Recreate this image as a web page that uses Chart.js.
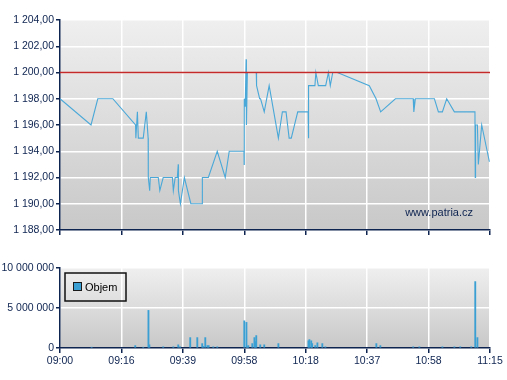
<!DOCTYPE html>
<html>
<head>
<meta charset="utf-8">
<script src="https://cdn.jsdelivr.net/npm/chart.js@4"></script>
<style>
  html, body { margin: 0; padding: 0; background: #ffffff; }
  #wrap { position: relative; width: 507px; height: 380px; overflow: hidden; }
  #c1 { position: absolute; left: 0; top: 0; }
  #c2 { position: absolute; left: 0; top: 250px; }
</style>
</head>
<body>
<div id="wrap">
  <canvas id="c1" width="507" height="245"></canvas>
  <canvas id="c2" width="507" height="130"></canvas>
</div>
<script>
// ---- data (x = position along the trade axis, 0..140; ticks every 20) ----
const tickLabels = ['09:00', '09:16', '09:39', '09:58', '10:18', '10:37', '10:58', '11:15'];
const referencePrice = 1200;

const priceX = [0, 10.1, 12.3, 17.2, 24.6, 24.7, 25.2, 25.5, 27.1, 28.1, 28.7, 28.75, 29.2, 29.4,
  32.0, 32.5, 33.6, 36.6, 36.9, 37.5, 38.2, 38.5, 38.55, 39.2, 40.5, 42.6, 46.3, 46.35, 48.3,
  51.2, 53.8, 55.1, 59.9, 59.95, 60.0, 60.3, 60.6, 60.7, 61.0, 63.9, 64.0, 65.0, 65.3, 66.5,
  68.1, 71.1, 72.4, 73.6, 74.6, 75.3, 77.4, 80.8, 80.85, 81.0, 83.0, 83.3, 84.1, 86.5, 87.4,
  88.0, 88.8, 90.3, 100.7, 102.9, 104.4, 109.2, 115.0, 115.2, 115.7, 121.9, 123.2, 124.5,
  125.9, 128.4, 135.1, 135.2, 135.3, 135.9, 136.2, 137.3, 139.8];
const priceY = [1198, 1196, 1198, 1198, 1196, 1195, 1197, 1195, 1195, 1197, 1195, 1192, 1191, 1192,
  1192, 1191, 1192, 1192, 1191, 1192, 1192, 1193, 1191, 1190, 1192, 1190, 1190, 1192, 1192,
  1194, 1192, 1194, 1194, 1193, 1198, 1197.4, 1201, 1196, 1200, 1200, 1199, 1198, 1198, 1197,
  1199, 1195, 1197, 1197, 1195, 1195, 1197, 1197, 1195, 1199, 1199, 1200, 1199, 1199, 1200,
  1199, 1200, 1200, 1199, 1198, 1197, 1198, 1198, 1197, 1198, 1198, 1197, 1197,
  1198, 1197, 1197, 1192, 1196, 1196, 1193, 1196, 1193.2];

const volX = [10.3, 24.5, 27.1, 28.8, 29.1, 33.6, 36.9, 38.5, 39.1, 42.4, 44.7, 46.3, 46.7, 47.3,
  48.0, 48.4, 49.9, 51.2, 60.0, 60.7, 61.0, 61.3, 62.6, 63.3, 63.6, 63.9, 65.2, 66.5, 71.1,
  80.9, 81.2, 81.8, 82.1, 83.1, 83.8, 85.4, 86.4, 103.0, 104.3, 115.0, 117.0, 124.5, 128.4,
  130.3, 133.9, 135.2, 135.9];
const volY = [100000, 300000, 100000, 4700000, 400000, 150000, 150000, 400000, 150000, 1300000,
  1300000, 550000, 200000, 1300000, 300000, 300000, 150000, 150000, 3400000, 3200000, 150000,
  300000, 550000, 1300000, 800000, 1550000, 400000, 400000, 550000,
  900000, 1050000, 900000, 550000, 300000, 650000, 550000, 150000, 550000, 300000, 150000,
  150000, 150000, 150000, 150000, 150000, 8300000, 1300000];

// ---- styling helpers ----
const FONT = 'Liberation Sans, Arial, sans-serif';
const NAVY = '#0d2350';
const BLUE = '#4aa8d8';

function fmtNum(v, decimals) {
  const neg = v < 0;
  let s = Math.abs(v).toFixed(decimals);
  let [ip, dp] = s.split('.');
  ip = ip.replace(/\B(?=(\d{3})+(?!\d))/g, ' ');
  return (neg ? '-' : '') + ip + (dp ? ',' + dp : '');
}

const bgPlugin = {
  id: 'plotBg',
  beforeDraw(chart) {
    const a = chart.chartArea, ctx = chart.ctx;
    const g = ctx.createLinearGradient(0, a.top, 0, a.bottom);
    g.addColorStop(0, '#efefef');
    g.addColorStop(1, '#c8c8c8');
    ctx.save();
    ctx.fillStyle = g;
    ctx.fillRect(a.left, a.top, a.right - a.left, a.bottom - a.top);
    ctx.restore();
  }
};

const watermarkPlugin = {
  id: 'watermark',
  afterDatasetsDraw(chart, args, opts) {
    const a = chart.chartArea, ctx = chart.ctx;
    ctx.save();
    ctx.font = '11px ' + FONT;
    ctx.fillStyle = NAVY;
    ctx.textAlign = 'right';
    ctx.textBaseline = 'middle';
    ctx.fillText(opts.text, a.right - 17, a.bottom - 17);
    ctx.restore();
  }
};

const boxLegendPlugin = {
  id: 'boxLegend',
  afterDraw(chart) {
    const a = chart.chartArea, ctx = chart.ctx;
    const ds = chart.data.datasets[0];
    const x = a.left + 5, y = a.top + 5, w = 61, h = 28;
    ctx.save();
    ctx.strokeStyle = '#111111';
    ctx.lineWidth = 1.5;
    ctx.strokeRect(x, y, w, h);
    ctx.fillStyle = ds.backgroundColor;
    ctx.fillRect(x + 9, y + 10, 7, 7);
    ctx.strokeStyle = '#1a1a1a';
    ctx.lineWidth = 1;
    ctx.strokeRect(x + 8.5, y + 9.5, 8, 8);
    ctx.font = '11px ' + FONT;
    ctx.fillStyle = '#000000';
    ctx.textAlign = 'left';
    ctx.textBaseline = 'middle';
    ctx.fillText(ds.label, x + 20, y + 14.5);
    ctx.restore();
  }
};

function xScale(showLabels, height) {
  return {
    type: 'linear', min: 0, max: 140, offset: false,
    afterFit(s) { s.height = height; },
    afterBuildTicks(s) { s.ticks = tickLabels.map((_, i) => ({ value: i * 20 })); },
    grid: { color: '#ffffff', lineWidth: 1.5, tickColor: NAVY, tickLength: 5, drawTicks: true, offset: false },
    border: { color: NAVY, width: 1.5 },
    ticks: {
      display: showLabels, color: NAVY, padding: 2, maxRotation: 0, autoSkip: false,
      font: { family: FONT, size: 10.5 },
      callback: (v) => tickLabels[Math.round(v / 20)]
    }
  };
}

Chart.defaults.animation = false;
Chart.defaults.responsive = false;

// ---- price chart ----
new Chart(document.getElementById('c1'), {
  type: 'line',
  data: {
    datasets: [
      {
        label: 'Reference',
        data: [{ x: 0, y: referencePrice }, { x: 140, y: referencePrice }],
        borderColor: '#c42a2a', borderWidth: 1.5, pointRadius: 0, order: 0
      },
      {
        label: 'Cena',
        data: priceX.map((x, i) => ({ x, y: priceY[i] })),
        borderColor: BLUE, borderWidth: 1.1, pointRadius: 0, tension: 0, order: 1
      }
    ]
  },
  options: {
    layout: { padding: { top: 20, right: 17, left: 0, bottom: 0 } },
    plugins: { legend: { display: false }, tooltip: { enabled: false }, watermark: { text: 'www.patria.cz' } },
    scales: {
      x: xScale(false, 15),
      y: {
        min: 1188, max: 1204,
        afterFit(s) { s.width = 60; },
        ticks: { stepSize: 2, color: NAVY, padding: 2, font: { family: FONT, size: 10.5 },
          callback: (v) => fmtNum(v, 2) },
        grid: { color: '#ffffff', lineWidth: 1.5, tickColor: NAVY, tickLength: 4 },
        border: { color: NAVY, width: 1.5 }
      }
    }
  },
  plugins: [bgPlugin, watermarkPlugin]
});

// ---- volume chart ----
new Chart(document.getElementById('c2'), {
  type: 'bar',
  data: {
    datasets: [{
      label: 'Objem',
      data: volX.map((x, i) => ({ x, y: volY[i] })),
      backgroundColor: '#3aa0d4', borderWidth: 0, barThickness: 1.2
    }]
  },
  options: {
    layout: { padding: { top: 18, right: 17, left: 0, bottom: 0 } },
    plugins: { legend: { display: false }, tooltip: { enabled: false } },
    scales: {
      x: xScale(true, 32),
      y: {
        min: 0, max: 10000000,
        afterFit(s) { s.width = 60; },
        afterBuildTicks(s) { s.ticks = [0, 5000000, 10000000].map(v => ({ value: v })); },
        ticks: { color: NAVY, padding: 2, font: { family: FONT, size: 10.5 },
          callback: (v) => fmtNum(v, 0) },
        grid: { color: '#ffffff', lineWidth: 1.5, tickColor: NAVY, tickLength: 4 },
        border: { color: NAVY, width: 1.5 }
      }
    }
  },
  plugins: [bgPlugin, boxLegendPlugin]
});
</script>
</body>
</html>
